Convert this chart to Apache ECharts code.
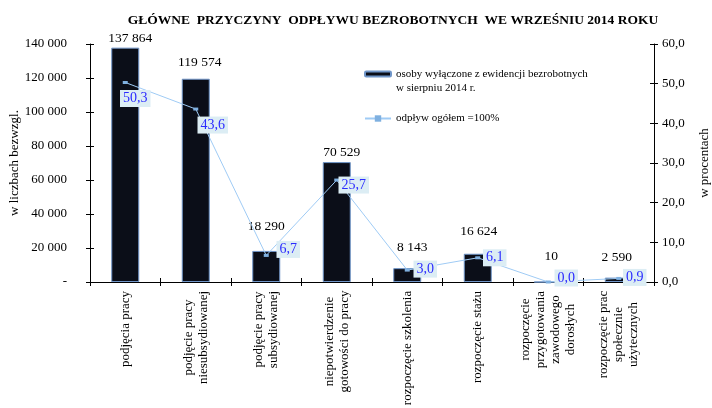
<!DOCTYPE html>
<html><head><meta charset="utf-8">
<script src="https://cdn.jsdelivr.net/npm/echarts@6/dist/echarts.min.js"></script>
<style>html,body{margin:0;padding:0;background:#fff}#c{width:712px;height:408px}</style>
</head><body><div id="c"></div>
<script>
var categories = [
  'podjęcia pracy',
  'podjęcie pracy\nniesubsydiowanej',
  'podjęcie pracy\nsubsydiowanej',
  'niepotwierdzenie\ngotowości do pracy',
  'rozpoczęcie szkolenia',
  'rozpoczęcie stażu',
  'rozpoczęcie\nprzygotowania\nzawodowego\ndorosłych',
  'rozpoczęcie prac\nspołecznie\nużytecznych'
];
var barValues = [137864, 119574, 18290, 70529, 8143, 16624, 10, 2590];
var pctValues = [50.3, 43.6, 6.7, 25.7, 3.0, 6.1, 0.0, 0.9];
var leftTicks = [0, 20000, 40000, 60000, 80000, 100000, 120000, 140000];
var rightTicks = [0, 10, 20, 30, 40, 50, 60];
var barName = 'osoby wyłączone z ewidencji bezrobotnych\nw sierpniu 2014 r.';
var lineName = 'odpływ ogółem =100%';
var titleText = 'GŁÓWNE  PRZYCZYNY  ODPŁYWU BEZROBOTNYCH  WE WRZEŚNIU 2014 ROKU';

// label offsets (style only)
var pctLabelOffsets = [[10,16],[17,16],[22,-6],[17,5],[18,-1],[17,0],[18,-4],[16,-1]];
var barLabelOffsets = [[5,1.5],[4,-5.5],[0,-13.5],[5,1.5],[5,-9.5],[1,-11.5],[3,-14.5],[-2,-9.5]];

var FONT = '"Liberation Serif", "Times New Roman", serif';
function fmtThousands(v){ return String(v).replace(/\B(?=(\d{3})+(?!\d))/g, ' '); }
function fmtPct(v){ return v.toFixed(1).replace('.', ','); }

var CAT_FS = 13;
var cv = document.createElement('canvas').getContext('2d');
cv.font = CAT_FS + 'px ' + FONT;
var rich = {};
categories.forEach(function(c, i){
  var w = 0;
  c.split('\n').forEach(function(l){ w = Math.max(w, cv.measureText(l).width); });
  rich['w' + i] = {width: Math.ceil(w) + 1, align: 'center', fontFamily: FONT, fontSize: CAT_FS, color: '#000', lineHeight: 15};
});

var chart = echarts.init(document.getElementById('c'), null, {renderer: 'canvas'});
var lMax = leftTicks[leftTicks.length-1], rMax = rightTicks[rightTicks.length-1];
var tickInner = {show: true, inside: true, length: 4, lineStyle: {color: '#000'}};
chart.setOption({
  animation: false,
  backgroundColor: '#fff',
  title: {text: titleText, left: 388, top: 9, textAlign: 'center',
    textStyle: {fontFamily: FONT, fontSize: 13.5, fontWeight: 'bold', color: '#000'}},
  grid: {left: 90, right: 58, top: 44, bottom: 126, containLabel: false, outerBoundsMode: 'none'},
  legend: [
    {data: [barName], left: 359, top: 48, itemWidth: 26, itemHeight: 5, itemGap: 0,
      formatter: function(n){ return ' \n' + n; },
      textStyle: {fontFamily: FONT, fontSize: 11, color: '#000', lineHeight: 14}},
    {data: [lineName], left: 359, top: 108, itemWidth: 26, itemHeight: 8,
      textStyle: {fontFamily: FONT, fontSize: 11, color: '#000'}}
  ],
  xAxis: [
    {type: 'category', data: categories, boundaryGap: true,
      axisLine: {lineStyle: {color: '#000', width: 1}},
      axisTick: {show: true, length: 4, interval: 0, lineStyle: {color: '#000'}},
      axisLabel: {interval: 0, rotate: 90, margin: 8,
        formatter: function(v){ var i = categories.indexOf(v); return v.split('\n').map(function(l){ return '{w'+i+'|'+l+'}'; }).join('\n'); },
        rich: rich, fontFamily: FONT, fontSize: CAT_FS, color: '#000'}},
    {type: 'category', data: categories, position: 'bottom', boundaryGap: true,
      axisLine: {show: false}, axisLabel: {show: false},
      axisTick: {show: true, inside: true, length: 4, interval: 0, lineStyle: {color: '#000'}}}
  ],
  yAxis: [
    {type: 'value', min: 0, max: lMax, interval: 20000, position: 'left',
      name: 'w liczbach bezwzgl.', nameLocation: 'middle', nameGap: 69, nameRotate: 90,
      nameMoveOverlap: false,
      nameTextStyle: {fontFamily: FONT, fontSize: 13, color: '#000'},
      axisLine: {show: true, lineStyle: {color: '#000'}},
      axisTick: {show: true, length: 4, lineStyle: {color: '#000'}},
      splitLine: {show: false},
      axisLabel: {margin: 23, fontFamily: FONT, fontSize: 13, color: '#000',
        formatter: function(v){ return v === 0 ? '-' : fmtThousands(v); }}},
    {type: 'value', min: 0, max: rMax, interval: 10, position: 'right',
      name: 'w procentach', nameLocation: 'middle', nameGap: 44, nameRotate: 90,
      nameMoveOverlap: false,
      nameTextStyle: {fontFamily: FONT, fontSize: 13, color: '#000'},
      axisLine: {show: true, lineStyle: {color: '#000'}},
      axisTick: {show: true, length: 4, lineStyle: {color: '#000'}},
      splitLine: {show: false},
      axisLabel: {margin: 8, fontFamily: FONT, fontSize: 13, color: '#000',
        formatter: function(v){ return fmtPct(v); }}},
    {type: 'value', min: 0, max: lMax, interval: 20000, position: 'left',
      axisLine: {show: false}, axisLabel: {show: false}, splitLine: {show: false}, axisTick: tickInner},
    {type: 'value', min: 0, max: rMax, interval: 10, position: 'right',
      axisLine: {show: false}, axisLabel: {show: false}, splitLine: {show: false}, axisTick: tickInner}
  ],
  series: [
    {name: barName, type: 'bar', xAxisIndex: 0, yAxisIndex: 0, barWidth: 28,
      data: barValues.map(function(v, i){ return {value: v, label: {offset: barLabelOffsets[i]}}; }),
      itemStyle: {color: '#0b0e18', borderColor: '#6f95c8', borderWidth: 1},
      label: {show: true, position: 'top', distance: 4, fontFamily: FONT, fontSize: 13.5, color: '#000',
        formatter: function(p){ return fmtThousands(p.value); }}, z: 2},
    {name: lineName, type: 'line', xAxisIndex: 0, yAxisIndex: 1,
      data: pctValues.map(function(v, i){
        return {value: v, label: {offset: pctLabelOffsets[i]}};
      }),
      symbol: 'rect', symbolSize: [5, 3], showAllSymbol: true,
      lineStyle: {color: '#9fcbf5', width: 1},
      itemStyle: {color: '#7fb0e0'},
      label: {show: true, position: 'inside', fontFamily: FONT, fontSize: 14, color: '#2b2bff',
        backgroundColor: '#dcedf4', padding: [2, 3, 1, 3],
        formatter: function(p){ return fmtPct(p.value); }}, z: 3}
  ]
});
</script></body></html>
